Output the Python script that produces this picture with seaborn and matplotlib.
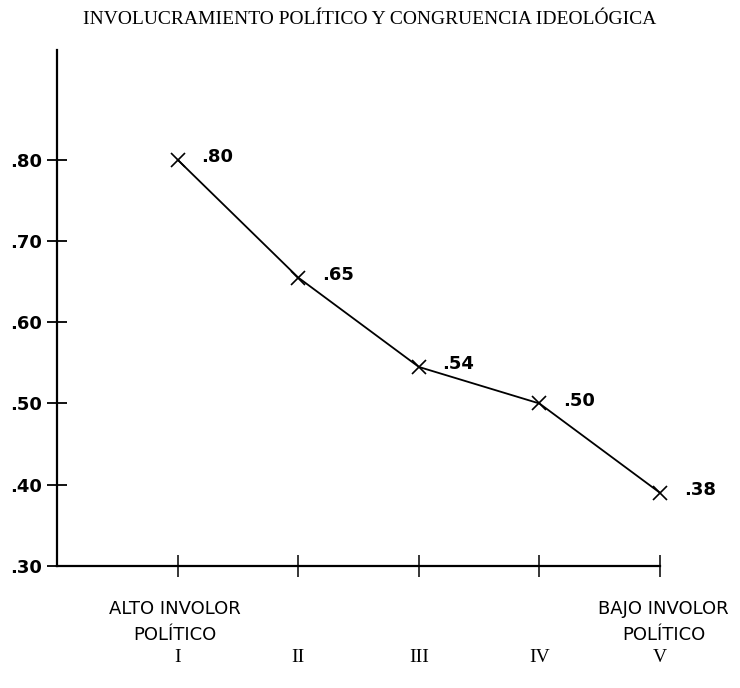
import numpy as np
import pandas as pd
import matplotlib
matplotlib.use("Agg")
import matplotlib.pyplot as plt
import seaborn as sns

sns.set_style("white")
plt.rcParams['font.family'] = ['DejaVu Sans']
plt.rcParams['text.color'] = 'black'
plt.rcParams['xtick.color'] = 'black'
plt.rcParams['ytick.color'] = 'black'

# data
niveles = ["I", "II", "III", "IV", "V"]
posiciones = [1, 2, 3, 4, 5]
congruencia = [0.80, 0.655, 0.545, 0.50, 0.39]
etiquetas = [".80", ".65", ".54", ".50", ".38"]
yticks = [0.30, 0.40, 0.50, 0.60, 0.70, 0.80]
ytick_labels = [".30", ".40", ".50", ".60", ".70", ".80"]

df = pd.DataFrame({"nivel": posiciones, "congruencia": congruencia})

fig = plt.figure(figsize=(7.4, 6.88), dpi=100)
ax = fig.add_axes([0.077, 0.1773, 0.815, 0.75])

sns.lineplot(data=df, x="nivel", y="congruencia", ax=ax, color="black",
             linewidth=1.3, marker="x", markersize=10, markeredgewidth=1.2,
             markeredgecolor="black", clip_on=False)

for x, y, t in zip(posiciones, congruencia, etiquetas):
    ax.annotate(t, (x, y), xytext=(17, 2), textcoords="offset points",
                fontsize=13, fontweight="bold", ha="left", va="center")

ax.set_xlim(0, 5)
ax.set_ylim(0.30, 0.935)

ax.set_yticks(yticks)
ax.set_yticklabels(ytick_labels, fontsize=13, fontweight="bold")
ax.set_xticks(posiciones)
ax.set_xticklabels(niveles, fontsize=14, family="Liberation Serif")

ax.tick_params(axis="y", left=True, direction="inout", length=14, width=1.3, pad=4)
ax.tick_params(axis="x", bottom=True, direction="inout", length=16, width=1.1, pad=52)

for s in ["top", "right"]:
    ax.spines[s].set_visible(False)
for s in ["left", "bottom"]:
    ax.spines[s].set_linewidth(1.6)
    ax.spines[s].set_color("black")

ax.set_xlabel("")
ax.set_ylabel("")

ax.text(0.98, -0.066, "ALTO INVOLOR\nPOLÍTICO", transform=ax.get_xaxis_transform(),
        ha="center", va="top", fontsize=13, linespacing=1.6)
ax.text(5.03, -0.066, "BAJO INVOLOR\nPOLÍTICO", transform=ax.get_xaxis_transform(),
        ha="center", va="top", fontsize=13, linespacing=1.6)

fig.text(0.5, 0.972, "INVOLUCRAMIENTO POLÍTICO Y CONGRUENCIA IDEOLÓGICA",
         ha="center", va="center", fontsize=14, family="Liberation Serif")

fig.savefig("out.png", dpi=100)
